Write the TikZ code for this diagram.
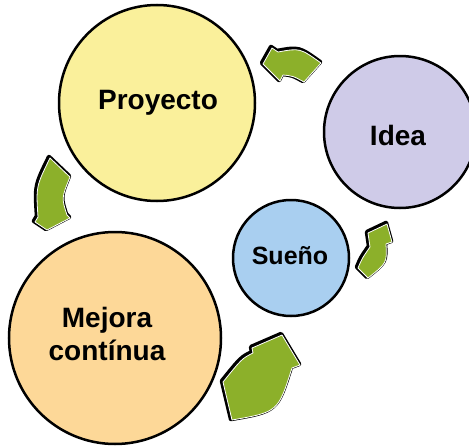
\documentclass[tikz,border=0pt]{standalone}
\usepackage{fontspec}
\setmainfont{Liberation Sans}
\usepackage{tikz}
\usetikzlibrary{shapes}

\definecolor{amarillo}{RGB}{250,240,155}
\definecolor{lila}{RGB}{207,203,232}
\definecolor{celeste}{RGB}{169,207,240}
\definecolor{durazno}{RGB}{253,216,152}
\definecolor{verde}{RGB}{140,176,42}

% flechas verdes (coordenadas en px, y hacia abajo)
\def\flechaIdea{(263,64) -- (272,48) -- (278,52) .. controls (300,48) .. (321,63) -- (304,82) .. controls (293,76) .. (283,75) -- (280,81) -- cycle}
\def\flechaProyecto{(50,158) -- (70,177) .. controls (61.5,198) .. (67,215) -- (70,218) -- (47,230) -- (35,222) -- (38,217) .. controls (36,186.5) .. (50,158) -- cycle}
\def\flechaMejora{(223,382) .. controls (242,358.5) .. (253,353) -- (252,348) -- (282,335) -- (300,365) -- (292,368) .. controls (278,412) .. (232,420) -- cycle}
\def\flechaSueno{(358,268) .. controls (362,258.5) .. (370,247) -- (368,233) -- (387,224) -- (392,242) -- (386,244) .. controls (387,263) .. (368,278) -- cycle}

\begin{document}
\begin{tikzpicture}[x=1pt,y=-1pt,
  circulo/.style={circle,draw=black,line width=2.5pt,inner sep=0pt},
  texto/.style={font=\bfseries\fontsize{28}{33}\selectfont,align=center,inner sep=0pt},
  borde/.style={draw=black,line width=4.5pt,line join=round,shift={(-1,-1)}},
  relleno/.style={fill=verde,draw=white,line width=0.8pt,line join=round}]
\useasboundingbox (0,0) rectangle (469,447);
\node[circulo,fill=amarillo,minimum size=196pt] (proyecto) at (157,103) {};
\node[circulo,fill=lila,minimum size=152pt] (idea) at (400,132) {};
\node[circulo,fill=celeste,minimum size=116pt] (sueno) at (291,258) {};
\node[circulo,fill=durazno,minimum size=212pt] (mejora) at (115,338) {};
\node[texto,anchor=base] (tproyecto) at (158,109) {Proyecto};
\node[texto,anchor=base] (tidea) at (398,145) {Idea};
\node[texto,anchor=base,font=\bfseries\fontsize{25}{30}\selectfont] (tsueno) at (290,264) {Sueño};
\node[texto] (tmejora) at (107,333.5) {Mejora\\contínua};
\draw[borde] \flechaIdea;
\draw[relleno] \flechaIdea;
\draw[borde] \flechaProyecto;
\draw[relleno] \flechaProyecto;
\draw[borde] \flechaMejora;
\draw[relleno] \flechaMejora;
\draw[borde] \flechaSueno;
\draw[relleno] \flechaSueno;
\end{tikzpicture}
\end{document}
